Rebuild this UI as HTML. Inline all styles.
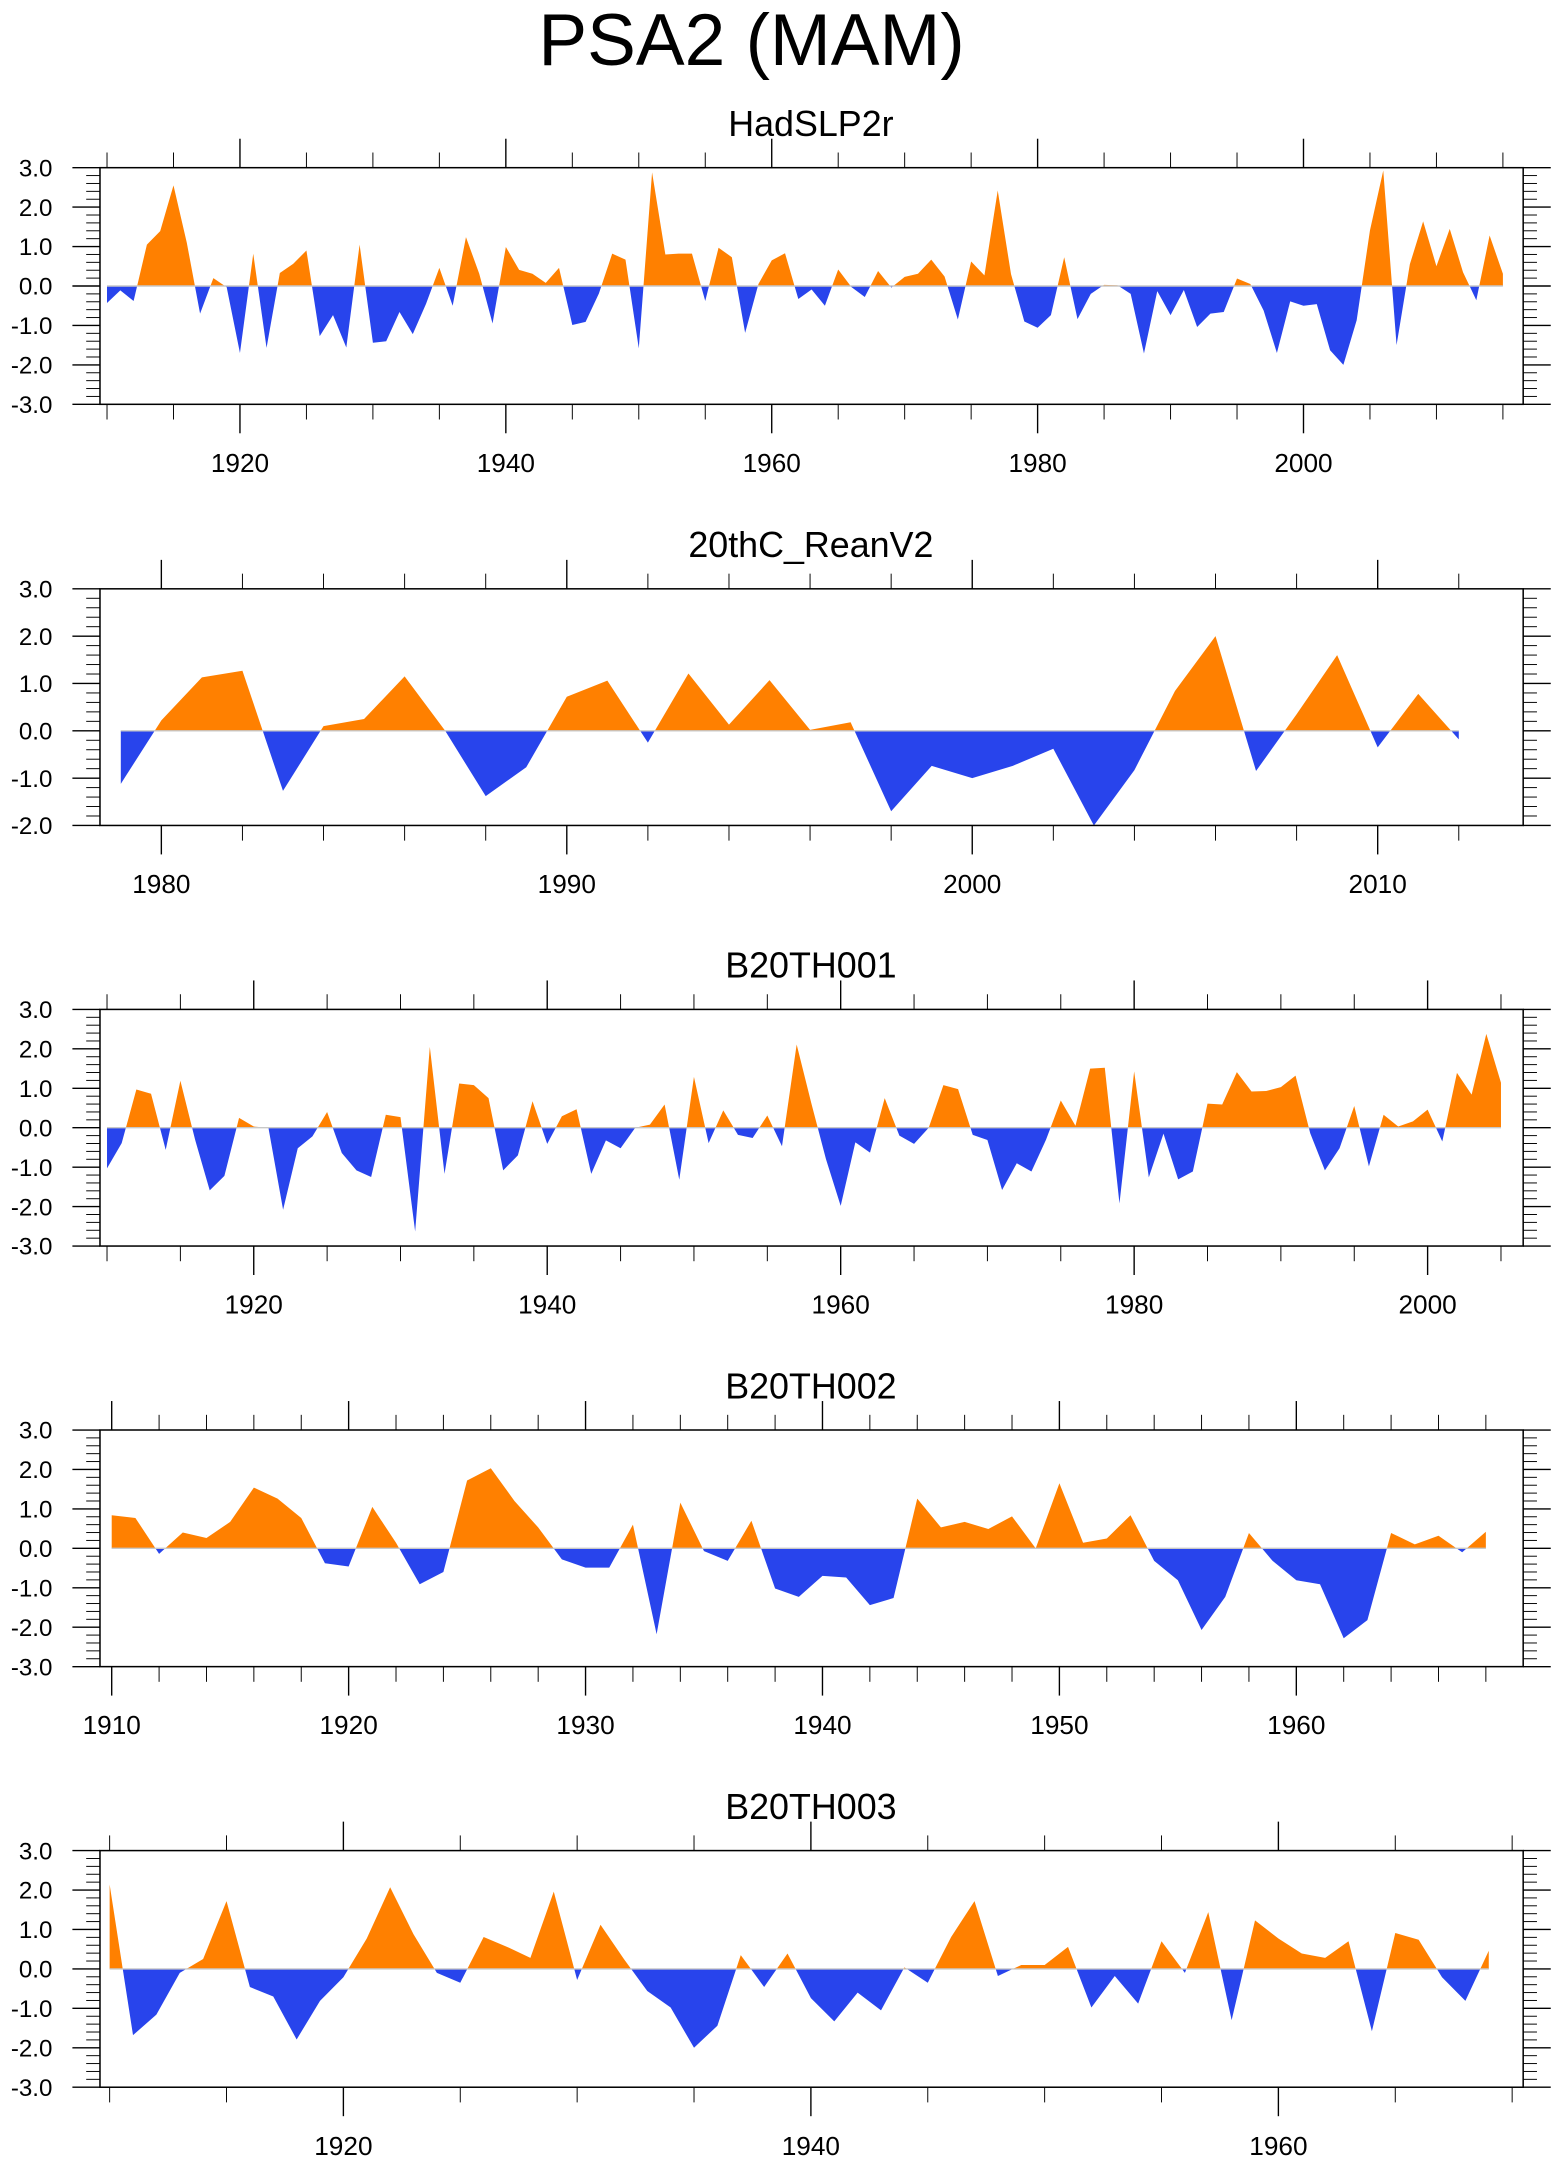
<!DOCTYPE html>
<html><head><meta charset="utf-8">
<style>
html,body{margin:0;padding:0;background:#fff;}
svg{display:block;font-family:"Liberation Sans",Arial,sans-serif;}
</style></head>
<body>
<svg id="chart" width="1560" height="2165" viewBox="0 0 1131.2 1570" preserveAspectRatio="none" xmlns="http://www.w3.org/2000/svg">
<text x="545" y="47" font-size="53" text-anchor="middle">PSA2 (MAM)</text>
</svg>
<script>
// ---- data ----
const titles = ["HadSLP2r","20thC_ReanV2","B20TH001","B20TH002","B20TH003"];
const startYears = [1910,1979,1910,1910,1910];
const hadslp = [-0.43,-0.11,-0.38,1.05,1.39,2.55,1.1,-0.7,0.2,-0.03,-1.7,0.82,-1.57,0.33,0.56,0.9,-1.27,-0.74,-1.56,1.05,-1.44,-1.4,-0.66,-1.22,-0.45,0.46,-0.5,1.24,0.31,-0.95,0.99,0.41,0.31,0.08,0.46,-0.99,-0.91,-0.19,0.82,0.67,-1.58,2.88,0.8,0.82,0.82,-0.38,0.97,0.73,-1.19,0.05,0.65,0.83,-0.33,-0.09,-0.5,0.42,-0.03,-0.28,0.38,-0.04,0.23,0.31,0.67,0.24,-0.85,0.62,0.27,2.42,0.3,-0.9,-1.06,-0.74,0.73,-0.84,-0.2,0.03,0.02,-0.2,-1.71,-0.13,-0.74,-0.1,-1.04,-0.7,-0.66,0.19,0.05,-0.62,-1.7,-0.39,-0.5,-0.46,-1.63,-2.0,-0.87,1.41,2.93,-1.5,0.55,1.64,0.5,1.45,0.35,-0.36,1.28,0.31];
const rean = [-1.12,0.22,1.13,1.27,-1.27,0.1,0.25,1.15,0.0,-1.38,-0.77,0.72,1.06,-0.25,1.21,0.13,1.07,0.02,0.18,-1.7,-0.74,-1.0,-0.74,-0.38,-2.0,-0.83,0.84,2.0,-0.85,0.35,1.6,-0.35,0.78,-0.18];
const b001 = [-1.03,-0.39,0.97,0.86,-0.56,1.19,-0.3,-1.59,-1.22,0.25,0.03,0.0,-2.08,-0.52,-0.22,0.4,-0.64,-1.08,-1.25,0.33,0.27,-2.63,2.05,-1.17,1.12,1.08,0.75,-1.08,-0.7,0.67,-0.41,0.29,0.47,-1.17,-0.32,-0.52,0.0,0.08,0.59,-1.32,1.29,-0.39,0.44,-0.18,-0.26,0.31,-0.47,2.11,0.62,-0.8,-1.98,-0.37,-0.63,0.75,-0.2,-0.41,0.0,1.08,0.98,-0.18,-0.31,-1.58,-0.9,-1.11,-0.3,0.69,0.05,1.5,1.52,-1.92,1.43,-1.26,-0.15,-1.31,-1.11,0.61,0.59,1.41,0.92,0.93,1.03,1.32,-0.14,-1.08,-0.52,0.55,-0.98,0.33,0.03,0.16,0.46,-0.35,1.39,0.84,2.38,1.14];
const b002 = [0.84,0.77,-0.14,0.4,0.26,0.67,1.54,1.26,0.77,-0.38,-0.46,1.05,0.14,-0.91,-0.6,1.72,2.03,1.2,0.53,-0.28,-0.49,-0.49,0.6,-2.18,1.16,-0.07,-0.32,0.7,-1.02,-1.23,-0.7,-0.74,-1.44,-1.26,1.26,0.53,0.67,0.49,0.81,0.0,1.65,0.14,0.25,0.84,-0.32,-0.81,-2.07,-1.23,0.39,-0.32,-0.81,-0.91,-2.28,-1.82,0.39,0.1,0.32,-0.1,0.42];
const b003 = [2.14,-1.68,-1.16,-0.1,0.25,1.72,-0.46,-0.7,-1.79,-0.81,-0.21,0.77,2.07,0.88,-0.1,-0.35,0.81,0.56,0.28,1.96,-0.28,1.12,0.25,-0.56,-0.98,-2.0,-1.44,0.35,-0.46,0.39,-0.74,-1.33,-0.6,-1.05,0.04,-0.35,0.81,1.72,-0.18,0.1,0.1,0.56,-0.98,-0.18,-0.88,0.7,-0.1,1.44,-1.3,1.23,0.77,0.39,0.28,0.7,-1.58,0.91,0.74,-0.21,-0.81,0.46];
const series = [hadslp, rean, b001, b002, b003];
const yMins = [-3,-2,-3,-3,-3];
const yMaxs = [3,3,3,3,3];
const yTickLabels = [["3.0","2.0","1.0","0.0","-1.0","-2.0","-3.0"],["3.0","2.0","1.0","0.0","-1.0","-2.0"],["3.0","2.0","1.0","0.0","-1.0","-2.0","-3.0"],["3.0","2.0","1.0","0.0","-1.0","-2.0","-3.0"],["3.0","2.0","1.0","0.0","-1.0","-2.0","-3.0"]];
const xLabelYears = [[1920,1940,1960,1980,2000],[1980,1990,2000,2010],[1920,1940,1960,1980,2000],[1910,1920,1930,1940,1950,1960],[1920,1940,1960]];
// ---- layout (not data) ----
const panelTop = [121.6,427,732,1037,1342];
const boxH = 171.6, boxL = 72.5, boxR = 1104.5;
const xRef = [[1910,77.6,9.64],[1980,117,29.4],[1910,77.6,10.64],[1910,81,17.18],[1920,249,16.95]];
const majorStep = [20,10,20,10,20], minorStep = [5,2,5,2,5];
const xTickRange = [[1910,2015],[1979,2013],[1910,2005],[1910,1969],[1910,1970]];

const NS = "http://www.w3.org/2000/svg";
const svg = document.getElementById('chart');
function mk(tag, attrs, parent){const e=document.createElementNS(NS,tag);for(const k in attrs)e.setAttribute(k,attrs[k]);(parent||svg).appendChild(e);return e;}

for(let p=0;p<5;p++){
  const top=panelTop[p], bot=top+boxH;
  const ymin=yMins[p], ymax=yMaxs[p];
  const yS=v=>bot-(v-ymin)/(ymax-ymin)*boxH;
  const [ry,rx,pp]=xRef[p];
  const xS=yr=>rx+(yr-ry)*pp;
  const g=mk('g',{});
  
  
  const t=mk('text',{x:588,y:top-23,'font-size':26,'text-anchor':'middle'},g);
  
  
  t.textContent=titles[p];
  const data=series[p], y0=yS(0);
  let d='M'+xS(startYears[p])+','+y0;
  data.forEach((v,i)=>{d+=' L'+xS(startYears[p]+i).toFixed(2)+','+yS(v).toFixed(2);});
  d+=' L'+xS(startYears[p]+data.length-1)+','+y0+' Z';
  const cpA=mk('clipPath',{id:'ca'+p},svg); mk('rect',{x:0,y:top,width:1131,height:y0-top},cpA);
  const cpB=mk('clipPath',{id:'cb'+p},svg); mk('rect',{x:0,y:y0,width:1131,height:bot-y0},cpB);
  const pa=mk('path',{d:d,fill:'#ff8000','clip-path':'url(#ca'+p+')'},g);
  
  
  const pb=mk('path',{d:d,fill:'#2844ec','clip-path':'url(#cb'+p+')'},g);
  
  
  const zl=mk('line',{x1:xS(startYears[p]),x2:xS(startYears[p]+data.length-1),y1:y0,y2:y0,stroke:'#c8c8c8','stroke-width':1},g);
  
  
  const bx=mk('rect',{x:boxL,y:top,width:boxR-boxL,height:boxH,fill:'none',stroke:'#000','stroke-width':1.1},g);
  
  
  for(let v=ymin;v<=ymax+1e-6;v+=0.2){
    const vv=Math.round(v*10)/10, y=yS(vv), major=Math.abs(vv-Math.round(vv))<1e-6;
    const len=major?20:10;
    mk('line',{x1:boxL-len,x2:boxL,y1:y,y2:y,stroke:'#000','stroke-width':major?1:0.7},g);
    mk('line',{x1:boxR,x2:boxR+len,y1:y,y2:y,stroke:'#000','stroke-width':major?1:0.7},g);
  }
  yTickLabels[p].forEach(lbl=>{
    const tl=mk('text',{x:38,y:yS(parseFloat(lbl))+6.3,'font-size':17.5,'text-anchor':'end'},g);
    
    
    tl.textContent=lbl;
  });
  const [a,b]=xTickRange[p];
  for(let yr=Math.ceil(a/minorStep[p])*minorStep[p]; yr<=b; yr+=minorStep[p]){
    const x=xS(yr); if(x<boxL||x>boxR) continue;
    const major=yr%majorStep[p]===0, len=major?21:11;
    mk('line',{x1:x,x2:x,y1:top-len,y2:top,stroke:'#000','stroke-width':major?1:0.7},g);
    mk('line',{x1:x,x2:x,y1:bot,y2:bot+len,stroke:'#000','stroke-width':major?1:0.7},g);
  }
  xLabelYears[p].forEach(yr=>{
    const tl=mk('text',{x:xS(yr),y:bot+49,'font-size':19,'text-anchor':'middle'},g);
    
    
    tl.textContent=yr;
  });
}
</script>
</body></html>
